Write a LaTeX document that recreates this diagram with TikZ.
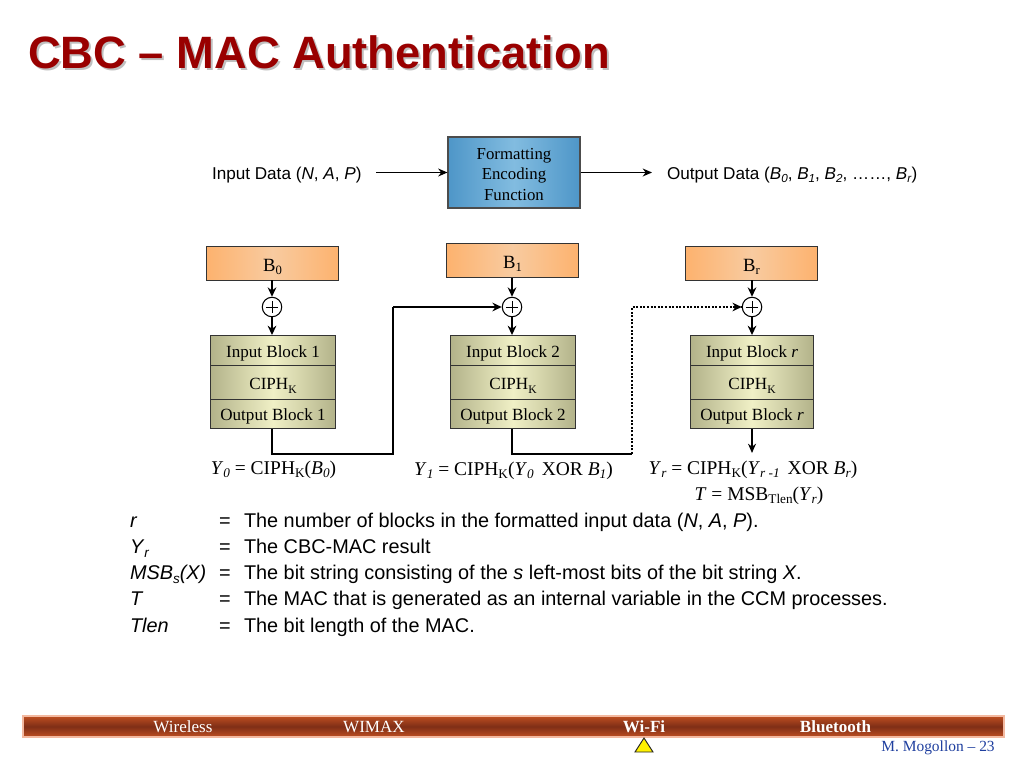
\documentclass[tikz,border=0pt]{standalone}
\usepackage{fontspec}
\setmainfont{Liberation Serif}
\newfontfamily\arialf{Liberation Sans}
\usetikzlibrary{arrows.meta,calc}
\definecolor{titlered}{HTML}{990000}
\definecolor{titleshade}{HTML}{C0C0C0}
\definecolor{bluee}{HTML}{4E96C8}
\definecolor{bluec}{HTML}{82BCE0}
\definecolor{orangee}{HTML}{FDB26E}
\definecolor{orangec}{HTML}{F8CBA0}
\definecolor{olivee}{HTML}{B3B38A}
\definecolor{olivec}{HTML}{F0F0C6}
\definecolor{barlight}{HTML}{F3B9A0}
\definecolor{baredge}{HTML}{BE4F22}
\definecolor{barmid}{HTML}{7F2E16}
\definecolor{pageblue}{HTML}{1F3F9F}
\newcommand{\lowsub}[1]{\raisebox{-0.4ex}{\scalebox{0.68}{#1}}}
\newcommand{\dropbase}[2]{\raisebox{-#1}[0pt][0pt]{#2}}
\tikzset{
  txt/.style={inner sep=0pt,outer sep=0pt,anchor=base west},
  ctr/.style={inner sep=0pt,outer sep=0pt,anchor=base},
  sanstop/.style={txt,font={\arialf\fontsize{12.85}{15}\selectfont}},
  sansbody/.style={txt,font={\arialf\fontsize{14.9}{17}\selectfont}},
  titletxt/.style={txt,font={\arialf\bfseries\fontsize{34}{38}\selectfont}},
  serifeq/.style={ctr,font={\fontsize{14.6}{17}\selectfont}},
  footertxt/.style={ctr,text=white,font={\fontsize{12.8}{15}\selectfont}},
  footerbold/.style={ctr,text=white,font={\bfseries\fontsize{12.8}{15}\selectfont}},
  bluebox/.style={draw=black!70,line width=0.8pt,shading=axis,left color=bluee,right color=bluee,middle color=bluec,
    minimum width=132*0.75pt,minimum height=71*0.75pt,inner sep=0pt,
    font={\fontsize{12.6}{15.4}\selectfont}},
  orangebox/.style={draw=black!80,line width=0.7pt,shading=axis,left color=orangee,right color=orangee,middle color=orangec,
    minimum width=132.5*0.75pt,minimum height=34*0.75pt,inner sep=0pt,font={\fontsize{14}{16}\selectfont}},
  cellbox/.style={draw=black!80,line width=0.7pt,shading=axis,left color=olivee,right color=olivee,middle color=olivec,
    inner sep=0pt,font={\fontsize{12.8}{15}\selectfont}},
  xorc/.style={circle,draw=black,line width=0.8pt,fill=white,minimum size=19.5*0.75pt,inner sep=0pt},
  flow/.style={draw=black,line width=1.35pt,-{Stealth[length=7pt,width=6.5pt]}},
  thinflow/.style={draw=black,line width=0.95pt,-{Stealth[length=7pt,width=6pt]}},
  plainline/.style={draw=black,line width=1.4pt},
  dotline/.style={draw=black,line width=1.5pt,dash pattern=on 1.5pt off 1.2pt}
}
\begin{document}
\begin{tikzpicture}[x=0.75pt,y=-0.75pt]
\useasboundingbox[fill=white] (0,0) rectangle (1024,768);
% title
\node[titletxt,text=titleshade] (titleshadow) at (30,70) {CBC – MAC Authentication};
\node[titletxt,text=titlered] (title) at (28,68) {CBC – MAC Authentication};
% top row
\node[sanstop] (indata) at (212,179) {Input Data (\textit{N}, \textit{A}, \textit{P})};
\node[bluebox] (fmt) at (514,172.5) {\dropbase{5.4pt}{\begin{tabular}{@{}c@{}}Formatting\\Encoding\\Function\end{tabular}}};
\node[sanstop] (outdata) at (667,179) {Output Data (\textit{B}\lowsub{\textit{0}}, \textit{B}\lowsub{\textit{1}}, \textit{B}\lowsub{\textit{2}}, ……, \textit{B}\lowsub{\textit{r}})};
\coordinate (inend) at (376,172.5);
\coordinate (outend) at (652,172.5);
\draw[thinflow] (inend) -- (fmt.west);
\draw[thinflow] (fmt.east) -- (outend);
% B boxes
\node[orangebox] (b0) at (272.5,263) {\dropbase{6pt}{B\lowsub{0}}};
\node[orangebox] (b1) at (512.5,260.5) {\dropbase{5.7pt}{B\lowsub{1}}};
\node[orangebox] (br) at (751.5,263) {\dropbase{6pt}{B\lowsub{r}}};
% xor
\node[xorc] (x0) at (272,307) {};
\node[xorc] (x1) at (512,307) {};
\node[xorc] (xr) at (752,307) {};
\foreach \n in {x0,x1,xr}{
  \draw[line width=0.7pt] ($(\n)+(-6,0)$) -- ($(\n)+(6,0)$) ($(\n)+(0,-6)$) -- ($(\n)+(0,6)$);
}
% cells
\foreach \nm/\cx/\cw/\lina/\linc in {a/273/125/Input Block 1/Output Block 1,b/513/125/Input Block 2/Output Block 2,c/752/123/Input Block \textit{r}/Output Block \textit{r}}{
  \node[cellbox,minimum width=\cw*0.75pt,minimum height=30*0.75pt] (in\nm) at (\cx,350.5) {\dropbase{5.6pt}{\lina}};
  \node[cellbox,minimum width=\cw*0.75pt,minimum height=34*0.75pt] (ci\nm) at (\cx,382.5) {\dropbase{5.6pt}{CIPH\lowsub{K}}};
  \node[cellbox,minimum width=\cw*0.75pt,minimum height=29*0.75pt] (ou\nm) at (\cx,414) {\dropbase{4.6pt}{\linc}};
}
% arrows
\draw[flow] (b0.south -| x0) -- (x0.north);
\draw[flow] (b1.south -| x1) -- (x1.north);
\draw[flow] (br.south -| xr) -- (xr.north);
\draw[flow] (x0.south) -- (ina.north -| x0);
\draw[flow] (x1.south) -- (inb.north -| x1);
\draw[flow] (xr.south) -- (inc.north -| xr);
% feedback
\coordinate (c1a) at (272,454);
\coordinate (c1b) at (393,454);
\coordinate (c1c) at (393,307);
\draw[plainline,line join=miter] (oua.south -| c1a) -- (c1a) -- (c1b) -- (c1c);
\draw[flow] (c1c) -- (x1.west);
\coordinate (c2a) at (512,454);
\coordinate (c2b) at (632,454);
\coordinate (c2c) at (632,307);
\draw[plainline] (oub.south -| c2a) -- (c2a) -- (c2b);
\draw[dotline] (c2b) -- (c2c) -- (xr.west);
\draw[-{Stealth[length=7pt,width=6.5pt]},draw=black,line width=0.9pt] ($(xr.west)+(-7,0)$) -- (xr.west);
\coordinate (yrtop) at (752,453);
\draw[thinflow] (ouc.south -| yrtop) -- (yrtop);
% equations
\node[serifeq] (eq0) at (273.5,474) {\textit{Y}\lowsub{\textit{0}} = CIPH\lowsub{K}(\textit{B}\lowsub{\textit{0}})};
\node[serifeq] (eq1) at (513.5,475) {\textit{Y}\lowsub{\textit{1}} = CIPH\lowsub{K}(\textit{Y}\lowsub{\textit{0}}\, XOR \textit{B}\lowsub{\textit{1}})};
\node[serifeq] (eq2) at (753,474) {\textit{Y}\lowsub{\textit{r}} = CIPH\lowsub{K}(\textit{Y}\lowsub{\textit{r -1}}\, XOR \textit{B}\lowsub{\textit{r}})};
\node[serifeq] (eq3) at (759,500) {\textit{T} = MSB\lowsub{Tlen}(\textit{Y}\lowsub{\textit{r}})};
% definitions
\foreach \id/\yy/\sym/\desc in {
  d1/527/\textit{r}/{The number of blocks in the formatted input data (\textit{N}, \textit{A}, \textit{P}).},
  d2/553/\textit{Y}\lowsub{\textit{r}}/{The CBC-MAC result},
  d3/579/\textit{MSB}\lowsub{\textit{s}}\textit{(X)}/{The bit string consisting of the \textit{s} left-most bits of the bit string \textit{X}.},
  d4/605/\textit{T}/{The MAC that is generated as an internal variable in the CCM processes.},
  d5/632/\textit{Tlen}/{The bit length of the MAC.}}{
  \node[sansbody] (\id s) at (130,\yy) {\sym};
  \node[sansbody] (\id e) at (219,\yy) {=};
  \node[sansbody] (\id t) at (244,\yy) {\desc};
}
% footer
\path[shading=axis,top color=baredge,bottom color=baredge,middle color=barmid] (23,716) rectangle (1004,737);
\node[draw=barlight,line width=1pt,minimum width=981*0.75pt,minimum height=21*0.75pt,inner sep=0pt] (bar) at (513.5,726.5) {};
\node[footertxt] (fw1) at (183,732) {Wireless};
\node[footertxt] (fw2) at (374,732) {WIMAX};
\node[footerbold] (fw3) at (644,732) {Wi-Fi};
\node[footerbold] (fw4) at (835.5,732) {Bluetooth};
\draw[fill=yellow,draw=black!85,line width=0.7pt] (644,738) -- (653,752) -- (635,752) -- cycle;
\node[ctr,text=pageblue,font={\fontsize{11.6}{14}\selectfont}] (pagenum) at (938,751) {M. Mogollon – 23};
\end{tikzpicture}
\end{document}
